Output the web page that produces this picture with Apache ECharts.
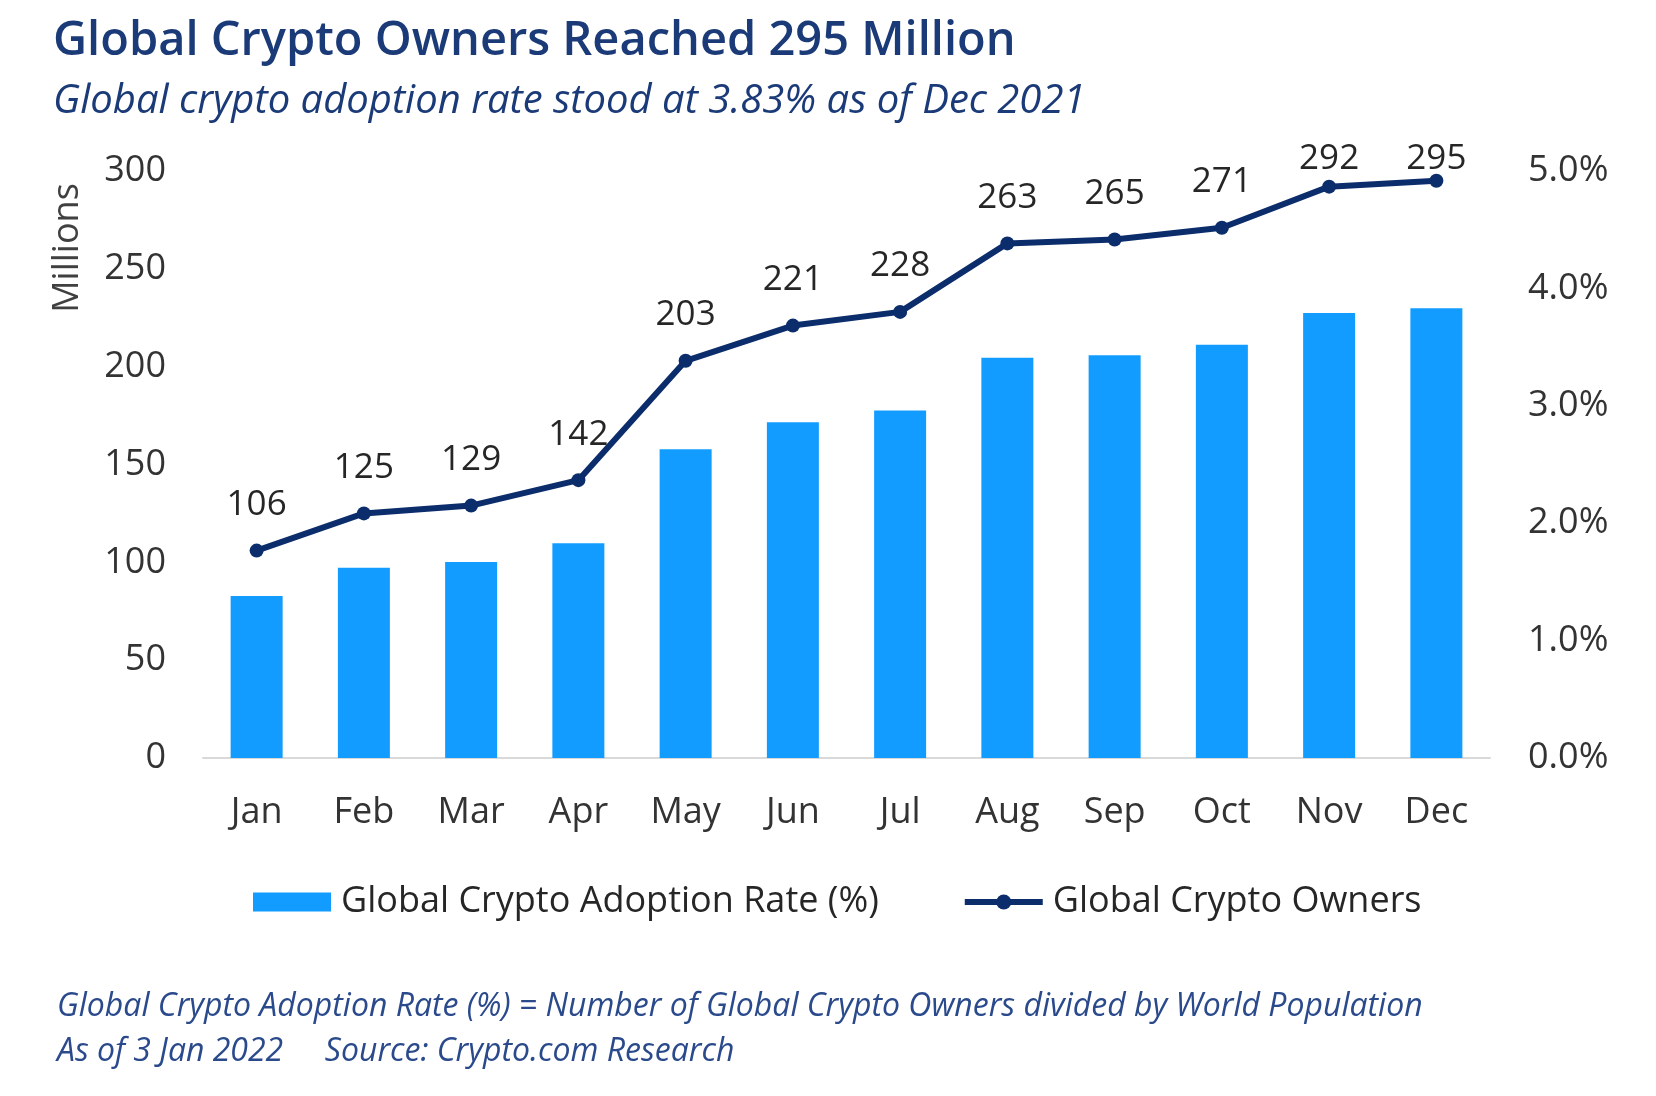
<!DOCTYPE html>
<html>
<head>
<meta charset="utf-8">
<script src="https://cdn.jsdelivr.net/npm/echarts@6/dist/echarts.min.js"></script>
<style>
html,body{margin:0;padding:0;background:#fff;}
#chart{width:1656px;height:1096px;}
</style>
</head>
<body>
<div id="chart"></div>
<script>
const months = ['Jan','Feb','Mar','Apr','May','Jun','Jul','Aug','Sep','Oct','Nov','Dec'];
const owners = [106,125,129,142,203,221,228,263,265,271,292,295];
const adoptionRate = [1.38,1.62,1.67,1.83,2.63,2.86,2.96,3.41,3.43,3.52,3.79,3.83];
const leftTicks = {min:0, max:300, interval:50};
const rightTicks = {min:0, max:5, interval:1};

const FONT = "'Open Sans', 'Noto Sans', sans-serif";
// labels near the top of the plot are pushed down (kept inside the plot area)
const labelPushDown = {10:18, 11:24};
const ownerData = owners.map((v,i)=> labelPushDown[i] ? {value:v, label:{offset:[0, labelPushDown[i]]}} : v);

const chart = echarts.init(document.getElementById('chart'), null, {renderer:'canvas'});
chart.setOption({
  backgroundColor:'#ffffff',
  animation:false,
  textStyle:{fontFamily:FONT},
  title:[
    {text:'Global Crypto Owners Reached 295 Million', left:48, top:13,
     textStyle:{fontFamily:FONT, fontSize:47, fontWeight:600, color:'#1b3a78'}},
    {text:'Global crypto adoption rate stood at 3.83% as of Dec 2021', left:48, top:77,
     textStyle:{fontFamily:FONT, fontSize:40, fontStyle:'italic', fontWeight:'normal', color:'#1b3a78'}},
    {text:'Global Crypto Adoption Rate (%) = Number of Global Crypto Owners divided by World Population', left:52, top:986,
     textStyle:{fontFamily:FONT, fontSize:32, fontStyle:'italic', fontWeight:'normal', color:'#2a4a8c'}},
    {text:'As of 3 Jan 2022     Source: Crypto.com Research', left:52, top:1031,
     textStyle:{fontFamily:FONT, fontSize:32, fontStyle:'italic', fontWeight:'normal', color:'#2a4a8c'}}
  ],
  graphic:[
    {type:'text', x:68, y:248, rotation:Math.PI/2,
     style:{text:'Millions', fontFamily:FONT, fontSize:36, fill:'#404040', textAlign:'center', textVerticalAlign:'middle'}}
  ],
  legend:{
    left:253, top:884, padding:0, itemGap:83, itemWidth:78, itemHeight:19,
    textStyle:{fontFamily:FONT, fontSize:36, color:'#262626', padding:[0,0,0,5]},
    lineStyle:{width:6},
    data:[{name:'Global Crypto Adoption Rate (%)', icon:'rect'},{name:'Global Crypto Owners'}]
  },
  grid:{left:203, right:166, top:171, bottom:338, containLabel:false},
  xAxis:{
    type:'category', data:months,
    axisLine:{lineStyle:{color:'#d9d9d9', width:2}},
    axisTick:{show:false},
    axisLabel:{fontFamily:FONT, fontSize:36, color:'#333333', margin:37}
  },
  yAxis:[
    {type:'value', min:leftTicks.min, max:leftTicks.max, interval:leftTicks.interval,
     axisLine:{show:false}, axisTick:{show:false}, splitLine:{show:false},
     axisLabel:{fontFamily:FONT, fontSize:36, color:'#333333', margin:37}},
    {type:'value', min:rightTicks.min, max:rightTicks.max, interval:rightTicks.interval, position:'right',
     axisLine:{show:false}, axisTick:{show:false}, splitLine:{show:false},
     axisLabel:{fontFamily:FONT, fontSize:36, color:'#333333', margin:38,
       formatter:v=>v.toFixed(1)+'%'}}
  ],
  series:[
    {name:'Global Crypto Adoption Rate (%)', type:'bar', yAxisIndex:1, data:adoptionRate,
     barWidth:52, itemStyle:{color:'#139cff'}},
    {name:'Global Crypto Owners', type:'line', yAxisIndex:0, data:ownerData,
     symbol:'circle', symbolSize:14,
     lineStyle:{color:'#0c2d6b', width:6}, itemStyle:{color:'#0c2d6b'},
     label:{show:true, position:'top', distance:21, fontFamily:FONT, fontSize:35, color:'#262626'}}
  ]
});
</script>
</body>
</html>
